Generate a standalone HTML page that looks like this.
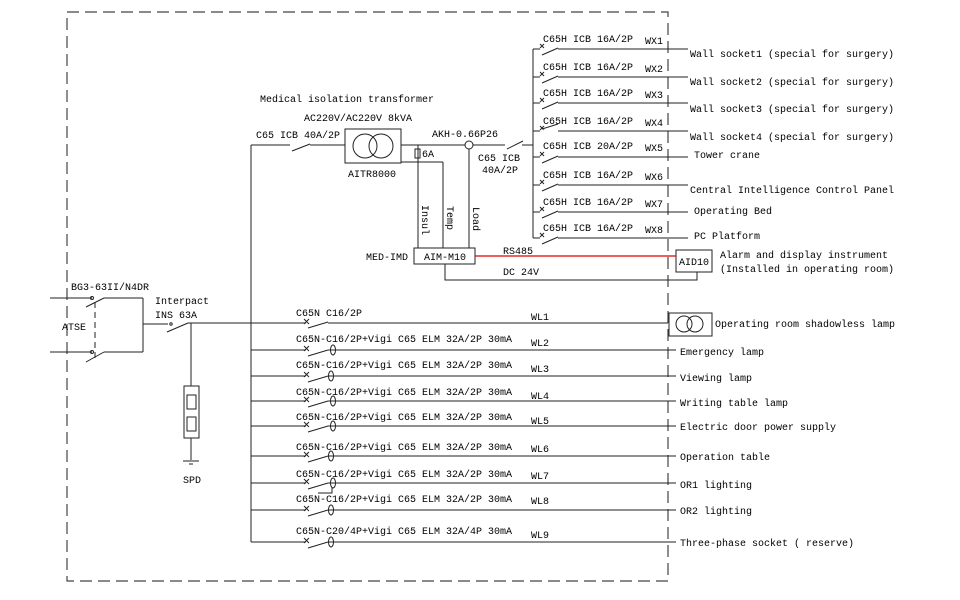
<!DOCTYPE html>
<html><head><meta charset="utf-8"><style>
html,body{margin:0;padding:0;background:#fff;}
svg{display:block;}
text{font-family:"Liberation Mono",monospace;font-size:10px;fill:#000;}
</style></head><body>
<svg width="960" height="600" viewBox="0 0 960 600" xmlns="http://www.w3.org/2000/svg">
<g stroke="#333" stroke-width="1.2" fill="none">
<rect x="67" y="12" width="601" height="569" stroke-dasharray="12,6" stroke="#444"/>
</g>
<g stroke="#222" stroke-width="1" fill="none">
<line x1="50" y1="298" x2="92" y2="298"/>
<line x1="50" y1="352" x2="92" y2="352"/>
<circle cx="92" cy="298" r="1.5"/><circle cx="92" cy="352" r="1.5"/>
<line x1="86" y1="307" x2="104" y2="298"/><line x1="104" y1="298" x2="143" y2="298"/>
<line x1="86" y1="362" x2="104" y2="352"/><line x1="104" y1="352" x2="143" y2="352"/>
<line x1="95" y1="302" x2="95" y2="360" stroke-dasharray="6,4"/>
<line x1="143" y1="298" x2="143" y2="352"/>
<line x1="143" y1="324" x2="168" y2="324"/>
<line x1="167" y1="332" x2="188" y2="323"/>
<line x1="188" y1="323" x2="251" y2="323"/>
<circle cx="171" cy="324" r="1.2"/>
<line x1="191" y1="323" x2="191" y2="386"/>
<rect x="184" y="386" width="15" height="52"/>
<rect x="187" y="395" width="9" height="14"/>
<rect x="187" y="417" width="9" height="14"/>
<line x1="191" y1="438" x2="191" y2="460"/>
<line x1="183" y1="461" x2="199" y2="461"/>
<line x1="189" y1="464" x2="193" y2="464"/>
<line x1="251" y1="145" x2="251" y2="542"/>
<line x1="251" y1="145" x2="290" y2="145"/>
<line x1="292" y1="151" x2="310" y2="144"/>
<line x1="310" y1="145" x2="345" y2="145"/>
<rect x="345" y="129" width="56" height="34"/>
<circle cx="365" cy="146" r="12"/><circle cx="381" cy="146" r="12"/>
<line x1="401" y1="145" x2="505" y2="145"/>
<line x1="507" y1="149" x2="523" y2="141"/>
<line x1="522" y1="145" x2="533" y2="145"/>
<rect x="415" y="149" width="5" height="9"/>
<line x1="418" y1="145" x2="418" y2="248"/>
<line x1="401" y1="162" x2="443" y2="162"/>
<line x1="443" y1="162" x2="443" y2="248"/>
<circle cx="469" cy="145" r="4" fill="#fff"/>
<line x1="469" y1="149" x2="469" y2="248"/>
<rect x="414" y="248" width="61" height="16"/>
<polyline points="445,264 445,280 697,280 697,272"/>
<rect x="676" y="250" width="36" height="22"/>
<line x1="533" y1="49" x2="533" y2="238"/>
</g>
<line x1="475" y1="256" x2="676" y2="256" stroke="#d00" stroke-width="1.2"/>
<rect x="669" y="313" width="43" height="23" fill="none" stroke="#222"/>
<circle cx="684" cy="324" r="8" fill="none" stroke="#222"/><circle cx="695" cy="324" r="8" fill="none" stroke="#222"/>

<g stroke="#222" stroke-width="1" fill="none">
<path d="M533 49H540M542 55L558 48M558 49H688M540 44l4 4M544 44l-4 4"/>
<path d="M533 77H540M542 83L558 76M558 77H688M540 72l4 4M544 72l-4 4"/>
<path d="M533 103H540M542 109L558 102M558 103H688M540 98l4 4M544 98l-4 4"/>
<path d="M533 131H540M542 129L558 124M558 131H688M540 126l4 4M544 126l-4 4"/>
<path d="M533 157H540M542 163L558 156M558 157H688M540 152l4 4M544 152l-4 4"/>
<path d="M533 185H540M542 191L558 184M558 185H688M540 180l4 4M544 180l-4 4"/>
<path d="M533 212H540M542 218L558 211M558 212H688M540 207l4 4M544 207l-4 4"/>
<path d="M533 238H540M542 244L558 237M558 238H688M540 233l4 4M544 233l-4 4"/>
<path d="M251 323H306M308 328L328 322M328 323H668M304 319l5 5M309 319l-5 5"/>
<path d="M251 350H306M308 356L328 350M328 350H676M304 346l5 5M309 346l-5 5"/>
<ellipse cx="333" cy="350" rx="2.5" ry="5"/>
<path d="M251 376H306M308 382L328 376M328 376H676M304 372l5 5M309 372l-5 5"/>
<ellipse cx="331" cy="376" rx="2.5" ry="5"/>
<path d="M251 401H306M308 407L328 401M328 401H676M304 397l5 5M309 397l-5 5"/>
<ellipse cx="333" cy="401" rx="2.5" ry="5"/>
<path d="M251 426H306M308 432L328 426M328 426H676M304 422l5 5M309 422l-5 5"/>
<ellipse cx="333" cy="426" rx="2.5" ry="5"/>
<path d="M251 456H306M308 462L328 456M328 456H676M304 452l5 5M309 452l-5 5"/>
<ellipse cx="331" cy="456" rx="2.5" ry="5"/>
<path d="M251 483H306M308 489L328 483M328 483H676M304 479l5 5M309 479l-5 5M318 493H332V487"/>
<ellipse cx="333" cy="483" rx="2.5" ry="5"/>
<path d="M251 510H306M308 516L328 510M328 510H676M304 506l5 5M309 506l-5 5"/>
<ellipse cx="331" cy="510" rx="2.5" ry="5"/>
<path d="M251 542H306M308 548L328 542M328 542H676M304 538l5 5M309 538l-5 5"/>
<ellipse cx="331" cy="542" rx="2.5" ry="5"/>
</g>

<text x="71" y="290">BG3-63II/N4DR</text>
<text x="62" y="330">ATSE</text>
<text x="155" y="304">Interpact</text>
<text x="155" y="318">INS 63A</text>
<text x="183" y="483">SPD</text>
<text x="260" y="102">Medical isolation transformer</text>
<text x="304" y="121">AC220V/AC220V 8kVA</text>
<text x="256" y="138">C65 ICB 40A/2P</text>
<text x="348" y="177">AITR8000</text>
<text x="422" y="157">6A</text>
<text x="432" y="137">AKH-0.66P26</text>
<text x="478" y="161">C65 ICB</text>
<text x="482" y="173">40A/2P</text>
<text transform="translate(422,205) rotate(90)">Insul</text>
<text transform="translate(447,206) rotate(90)">Temp</text>
<text transform="translate(473,207) rotate(90)">Load</text>
<text x="366" y="260">MED-IMD</text>
<text x="424" y="260">AIM-M10</text>
<text x="503" y="254">RS485</text>
<text x="503" y="275">DC 24V</text>
<text x="679" y="265">AID10</text>
<text x="720" y="258">Alarm and display instrument</text>
<text x="720" y="272">(Installed in operating room)</text>

<text x="543" y="42">C65H ICB 16A/2P</text><text x="645" y="44">WX1</text>
<text x="543" y="70">C65H ICB 16A/2P</text><text x="645" y="72">WX2</text>
<text x="543" y="96">C65H ICB 16A/2P</text><text x="645" y="98">WX3</text>
<text x="543" y="124">C65H ICB 16A/2P</text><text x="645" y="126">WX4</text>
<text x="543" y="149">C65H ICB 20A/2P</text><text x="645" y="151">WX5</text>
<text x="543" y="178">C65H ICB 16A/2P</text><text x="645" y="180">WX6</text>
<text x="543" y="205">C65H ICB 16A/2P</text><text x="645" y="207">WX7</text>
<text x="543" y="231">C65H ICB 16A/2P</text><text x="645" y="233">WX8</text>

<text x="690" y="57">Wall socket1 (special for surgery)</text>
<text x="690" y="85">Wall socket2 (special for surgery)</text>
<text x="690" y="112">Wall socket3 (special for surgery)</text>
<text x="690" y="140">Wall socket4 (special for surgery)</text>
<text x="694" y="158">Tower crane</text>
<text x="690" y="193">Central Intelligence Control Panel</text>
<text x="694" y="214">Operating Bed</text>
<text x="694" y="239">PC Platform</text>

<text x="296" y="316">C65N C16/2P</text><text x="531" y="320">WL1</text>
<text x="296" y="342">C65N-C16/2P+Vigi C65 ELM 32A/2P 30mA</text><text x="531" y="346">WL2</text>
<text x="296" y="368">C65N-C16/2P+Vigi C65 ELM 32A/2P 30mA</text><text x="531" y="372">WL3</text>
<text x="296" y="395">C65N-C16/2P+Vigi C65 ELM 32A/2P 30mA</text><text x="531" y="399">WL4</text>
<text x="296" y="420">C65N-C16/2P+Vigi C65 ELM 32A/2P 30mA</text><text x="531" y="424">WL5</text>
<text x="296" y="450">C65N-C16/2P+Vigi C65 ELM 32A/2P 30mA</text><text x="531" y="452">WL6</text>
<text x="296" y="477">C65N-C16/2P+Vigi C65 ELM 32A/2P 30mA</text><text x="531" y="479">WL7</text>
<text x="296" y="502">C65N-C16/2P+Vigi C65 ELM 32A/2P 30mA</text><text x="531" y="504">WL8</text>
<text x="296" y="534">C65N-C20/4P+Vigi C65 ELM 32A/4P 30mA</text><text x="531" y="538">WL9</text>

<text x="715" y="327">Operating room shadowless lamp</text>
<text x="680" y="355">Emergency lamp</text>
<text x="680" y="381">Viewing lamp</text>
<text x="680" y="406">Writing table lamp</text>
<text x="680" y="430">Electric door power supply</text>
<text x="680" y="460">Operation table</text>
<text x="680" y="488">OR1 lighting</text>
<text x="680" y="514">OR2 lighting</text>
<text x="680" y="546">Three-phase socket ( reserve)</text>
</svg>
</body></html>
